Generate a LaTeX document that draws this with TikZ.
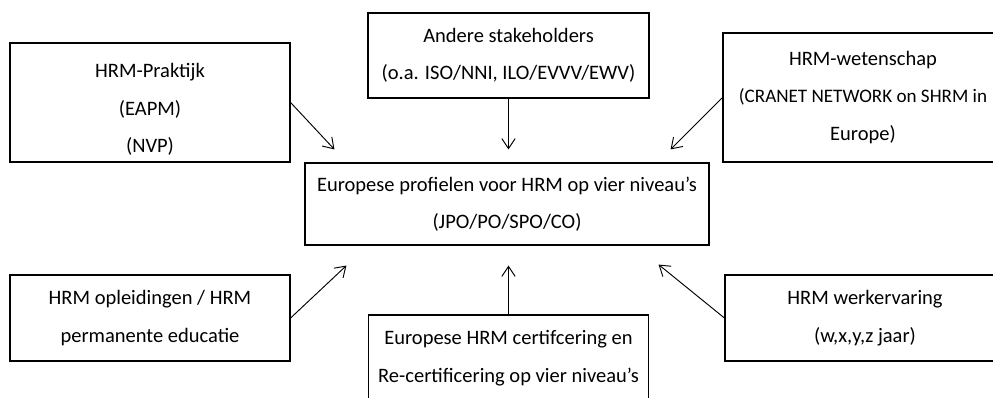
\documentclass[tikz,border=0pt]{standalone}
\usepackage{fontspec}
\setmainfont{Carlito}
\usetikzlibrary{arrows.meta}

\begin{document}
\begin{tikzpicture}[x=0.03cm,y=-0.03cm,
		box/.style={draw,line width=1pt,align=center,inner sep=0pt,
			font=\fontsize{17.5}{32}\selectfont},
		link/.style={line width=0.8pt,-{Straight Barb[length=3mm,width=4mm]}}]
			\useasboundingbox (0,0) rectangle (993,397);

			\node[box,minimum width=8.4cm,minimum height=3.57cm,text height=88pt] (prak) at (150,102.5) {HRM-Praktijk\\(EAPM)\\(NVP)};
			\node[box,minimum width=8.43cm,minimum height=2.55cm] (ander) at (508.5,55.5) {Andere stakeholders\\(o.a. ISO/NNI, ILO/EVVV/EWV)};
			\node[box,minimum width=8.4cm,minimum height=3.87cm] (wet) at (863,97.5) {HRM-wetenschap\\{\fontsize{16.3}{32}\selectfont(CRANET NETWORK on SHRM in}\\Europe)};
			\node[box,minimum width=12.12cm,minimum height=2.46cm] (centre) at (507,204) {Europese profielen voor HRM op vier niveau’s\\(JPO/PO/SPO/CO)};
			\node[box,minimum width=8.4cm,minimum height=2.58cm] (opl) at (150,318) {HRM opleidingen / HRM\\permanente educatie};
			\node[box,minimum width=8.4cm,minimum height=2.58cm] (cert) at (508.5,358) {Europese HRM certifcering en\\Re-certificering op vier niveau’s};
			\node[box,minimum width=8.4cm,minimum height=2.58cm] (werk) at (865,318) {HRM werkervaring\\(w,x,y,z jaar)};

			% arrows into the centre box
			\draw[link] (prak.east) -- ([shift={(30,-13)}]centre.north west);
			\draw[link,shorten >=0.39cm] (ander.south) -- (ander.south |- centre.north);
			\draw[link] (wet.west) -- ([shift={(-39,-13)}]centre.north east);
			\draw[link] (opl.east) -- ([shift={(42,20)}]centre.south west);
			\draw[link,shorten >=0.6cm] (cert.north) -- (cert.north |- centre.south);
			\draw[link] (werk.west) -- ([shift={(-51,19)}]centre.south east);
		\end{tikzpicture}
\end{document}
